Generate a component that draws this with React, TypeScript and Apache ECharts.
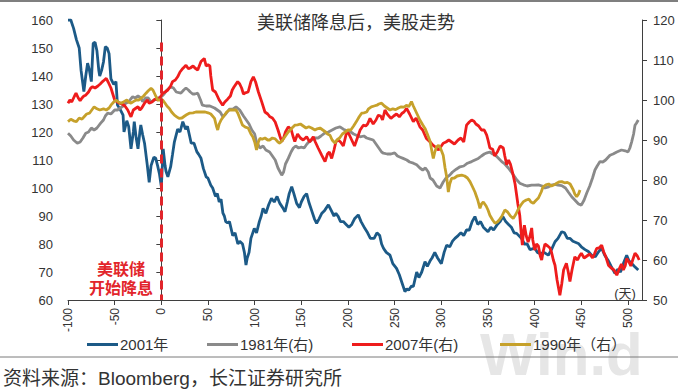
import React, { useEffect, useRef } from "react";
import * as echarts from "echarts";

const TITLE = "美联储降息后，美股走势";
const SOURCE = "资料来源：Bloomberg，长江证券研究所";
const ANNOTATION = ["美联储", "开始降息"];
const DAY_UNIT = "(天)";
const WATERMARK = "Win.d";
const NAMES = ["2001年", "1981年(右)", "2007年(右)", "1990年（右）"];
const COLORS = ["#1C5A87", "#8A8A8A", "#EE1C1C", "#C6A12B"];

const X_MIN = -100;
const X_MAX = 515;
const X_INTERVAL = 50;
const LEFT_MIN = 60;
const LEFT_MAX = 160;
const RIGHT_MIN = 50;
const RIGHT_MAX = 120;
const CUT_DAY = 0;

// 2001 (left axis)
const s2001: [number, number][] = [
  [-100, 160], [-97, 160], [-94, 157], [-91, 153], [-88, 150], [-86, 142], [-83, 134.4], [-81, 140], [-79, 144.6],
  [-77, 142], [-75, 138], [-73, 151.7], [-71, 152], [-69, 149], [-67, 142], [-66, 140], [-64, 142], [-62, 145],
  [-60, 150.5], [-58, 150], [-56, 148], [-54, 139], [-51, 137], [-48.6, 138], [-47, 129.6], [-44, 128], [-41, 126],
  [-40, 120], [-37, 124], [-35, 122], [-32.5, 114], [-30, 120], [-29, 123.7], [-27, 118], [-25, 114], [-23, 120],
  [-22, 122.5], [-20, 119], [-18, 116], [-15, 108], [-13, 102], [-11, 108], [-10, 109], [-8, 111], [-6, 110.6],
  [-4, 108], [-2, 105], [0, 100.5], [2, 114], [4, 108], [5, 106], [7, 104], [10, 107.6], [12, 112], [14, 116.5],
  [17.5, 121], [20, 120], [23, 123.7], [26, 121], [28, 122], [30, 119], [32, 116], [35, 116], [38, 113], [40, 112],
  [42.5, 110.6], [45, 107], [48, 104], [50, 103.5], [53, 101], [55, 100], [58, 97], [60, 98], [62, 95], [64, 96],
  [66, 91], [67.5, 90], [69, 88], [71, 87.5], [73, 88], [76.5, 83], [79, 84], [82, 80], [84, 81], [87, 80], [89, 77],
  [90.7, 72.5], [92, 75], [94, 77], [96, 82], [99.6, 85.6], [102, 84], [105, 88], [107, 90], [109, 92.7], [112, 91],
  [115, 94], [118, 96.3], [121, 95], [124, 97], [127, 94.5], [130, 93], [132.5, 91.5], [135, 95], [137, 98],
  [139.7, 100.5], [142, 98], [145, 94.5], [148, 93], [150, 95], [153, 97], [155.7, 98], [158, 95], [161, 92],
  [164, 89], [166.4, 87.4], [169, 89], [172, 91], [175, 92], [179, 94], [182, 92], [185, 90], [187, 91],
  [189.6, 89.8], [192, 88], [195, 88], [198, 87], [201, 86], [204, 87], [207, 89], [211, 90.4], [214, 88],
  [218, 85.6], [221, 84], [224, 82], [228, 82], [231, 84], [234, 83], [236, 80], [238, 78.5], [241, 77], [245, 76],
  [248, 73], [252, 71.3], [255, 69], [258, 66], [261, 63], [263, 64], [265, 63.5], [268, 65], [270, 64.8],
  [273.6, 70], [276, 68], [279, 70], [282.5, 73.7], [285, 72], [288, 74], [290, 75], [293, 77], [296, 75], [300, 73],
  [303, 77], [305.7, 79.6], [309, 79], [312, 81], [314.6, 82], [318, 83], [321, 84], [324, 83], [327, 85], [330, 85],
  [333, 88], [336, 89.8], [339, 87], [342, 88], [345, 86], [350, 84.4], [353, 86], [356, 85], [360, 87], [363, 88],
  [366, 89.8], [369, 88], [372, 87], [375, 86], [378, 84], [380.7, 83.8], [383, 83], [386, 82], [389, 80], [392, 80],
  [395, 78], [400, 78.5], [403, 77], [406, 76.5], [410, 77], [414.6, 76], [418, 78], [421.8, 80.8], [425, 82],
  [429, 84.4], [432, 84], [435, 82], [438, 82], [441, 81], [446.8, 80.2], [450, 79], [454, 78], [457.5, 77.3],
  [461, 76], [465, 75.5], [468, 77], [471.8, 78.5], [475, 76], [479, 74], [482, 72], [486, 69.5], [489, 71],
  [492, 70], [495, 73], [498.6, 76], [501, 74], [504, 73], [507, 72], [511, 70.7],
];

// 1981 (right axis)
const s1981: [number, number][] = [
  [-100, 91.7], [-97, 91], [-94, 90], [-90, 89.2], [-87, 89.5], [-84, 90.5], [-81, 91.7], [-78, 92], [-75, 93],
  [-72, 92.5], [-69, 93], [-65, 94.2], [-62, 95], [-60, 96], [-57.5, 96.7], [-54, 96.5], [-50, 97.5], [-47, 97.5],
  [-44, 98], [-41, 98.5], [-38, 99.2], [-35, 99.5], [-33, 100.2], [-30.7, 100.8], [-28, 100.5], [-25, 101],
  [-22, 100.5], [-20, 99.6], [-17, 100.5], [-14, 100.5], [-11, 99.5], [-7.5, 100], [-4, 100.5], [0, 100.8],
  [3, 101.5], [6, 102.5], [10, 103.3], [13, 103], [16, 102], [21, 101.7], [24, 102.5], [26.4, 103], [29, 102.5],
  [31, 102], [33.6, 101.5], [36, 101.5], [39, 101.7], [42, 100], [44, 98.7], [48, 98.5], [52, 98.5], [57, 98],
  [60, 97.5], [63, 97], [66, 95.8], [69, 96.5], [73, 97.7], [77, 97.8], [80, 98.3], [84, 97.5], [88, 96], [91, 95],
  [94, 94], [97, 92.5], [100, 91.5], [102, 89.5], [105.7, 88], [109, 88.5], [112, 87.5], [116, 87], [119, 86],
  [122, 85], [125, 83], [129, 81.2], [131, 82], [133, 84], [136, 85.4], [139, 87], [141.4, 88], [144, 88.5],
  [147, 88], [150, 88.2], [153, 88], [156, 89], [158, 89.5], [161, 90], [164, 90.5], [168, 90.5], [171, 91],
  [175, 91.7], [179, 92], [183, 92.5], [187, 93], [191.4, 93.3], [195, 92.7], [199, 92.3], [203, 92], [206, 91.5],
  [209, 91.2], [213, 90.8], [217, 91], [220, 90.5], [224, 90.2], [227, 90], [230, 89], [233, 88], [236, 87],
  [238, 86.7], [242, 86.5], [246, 86.5], [250, 86.8], [253, 86], [256, 85.7], [259, 85.4], [263, 85], [266, 84.5],
  [270, 84.2], [273.6, 83.8], [277, 83], [280, 82.5], [283, 83], [286, 82], [288, 80.5], [291, 80], [295, 78.5],
  [298.6, 78], [302, 79.5], [305, 80.5], [309, 81.2], [312, 82], [316, 82.7], [320, 83.3], [324, 83.5], [328, 84.2],
  [332.5, 84.6], [336, 85], [339.6, 85.4], [343, 86], [346, 86.5], [349, 86.8], [352, 87], [355, 86.5],
  [358, 86.2], [361, 85.5], [364.7, 84.6], [368, 84], [371.8, 83], [375, 82], [378, 81], [381, 80], [384, 79.2],
  [388, 78.8], [392, 78.5], [396.8, 78.7], [400, 78.7], [404, 78.8], [408, 78.5], [411, 78], [415, 78.3],
  [419, 78.8], [422, 78.9], [425, 78.7], [429, 78.6], [433, 78], [436, 77], [439.7, 75.8], [443, 75], [447, 74],
  [450, 73.7], [453, 75], [455.7, 76.7], [459, 78.5], [462, 80.5], [464.6, 82.5], [467, 83.5], [470, 84.6],
  [473, 84.5], [476, 85], [480.7, 86.2], [484, 86.5], [488, 87], [493, 87.5], [497, 87.3], [500, 87], [502, 88],
  [504, 89.6], [506, 91.5], [507.5, 93.7], [509, 94.2], [511, 95],
];

// 2007 (right axis)
const s2007: [number, number][] = [
  [-100, 99.2], [-98, 100], [-96, 99.5], [-93, 101], [-91.4, 101.7], [-89, 100.5], [-87, 99.8], [-85, 100.5],
  [-83, 101], [-81, 101.2], [-78, 102], [-75.6, 103], [-73.6, 103.3], [-71, 103], [-68, 103.5], [-65.5, 104],
  [-63, 104.6], [-61, 105], [-59, 105.4], [-57, 104.5], [-54, 103], [-52, 101.5], [-50, 100], [-47, 99.5],
  [-45, 99.2], [-42, 99], [-39, 98.5], [-36, 97.5], [-34, 96.5], [-32.5, 95.8], [-30, 97.5], [-27, 98], [-25, 98.3],
  [-23, 97.5], [-21, 98], [-18, 99.2], [-15, 100], [-13, 99.2], [-10, 99.5], [-7, 100.2], [-4, 100], [-2, 100.4],
  [1.5, 101.7], [4, 102], [7, 102.5], [10, 103.5], [12, 104.6], [15, 105], [17.5, 105.8], [20, 107], [23, 107.9],
  [26.4, 108.7], [29, 107.8], [31, 108], [34, 108.5], [36, 108], [39, 107.5], [42.5, 109.6], [46, 110.4],
  [48, 108.5], [50, 108.8], [52, 108.5], [53, 106], [55, 102.5], [58, 102], [60, 101], [62, 100], [65.7, 98.7],
  [68, 99.5], [71, 100.2], [74, 101], [76, 102.5], [78, 103.3], [81.8, 104.6], [84, 104], [86, 103], [88, 101.5],
  [90, 101.8], [93, 102], [96, 104.6], [98.6, 105.8], [101, 104.5], [104, 102], [107.5, 99.6], [111, 97],
  [114, 96.5], [116.4, 95.8], [119, 95.5], [122, 94.5], [125, 92.5], [127, 91], [129, 89.6], [131, 90.5], [133, 92],
  [136, 93.3], [139, 92.7], [141, 91], [143, 89.6], [146, 91.5], [149, 90.5], [152, 90], [155.7, 90.8],
  [159, 89.5], [162.8, 90.8], [165, 89.5], [168, 88], [171.8, 86.2], [175.4, 84.6], [178, 86.5], [180, 87],
  [182.5, 85.4], [185, 87.5], [187, 89.5], [189.6, 90], [192, 89.5], [195, 88.5], [198.6, 92], [201, 91.5],
  [204, 90], [207, 88.5], [210, 90.5], [213, 92.5], [216.4, 93.7], [219, 93.5], [221, 94], [223.6, 95.4], [227, 94],
  [230, 95], [232.5, 96.2], [235, 96], [237, 95], [239.6, 97.5], [242, 96.5], [246, 95.4], [249, 96], [252, 96.5],
  [255, 95.8], [258, 96.7], [260, 97], [262.8, 97.9], [266, 96.5], [270, 94.6], [273, 95.5], [277, 93.3],
  [280, 92.5], [284, 90.4], [288, 89.5], [291, 88.7], [295, 88], [297, 87.5], [300, 88.5], [302, 89.2],
  [305, 89.5], [308, 90], [311, 89.5], [314, 89], [318, 90], [321, 90.5], [324, 89.5], [327, 93.7], [330, 94.5],
  [332.5, 95], [335, 94.7], [337, 94], [340, 93.5], [343, 92.5], [346, 92.5], [348.6, 91.2], [350, 90], [352, 88],
  [355, 87.7], [357, 86], [360, 87], [363, 88.5], [366.4, 88], [368, 86], [370, 83.8], [372, 85], [374, 84],
  [377, 81.2], [379, 79], [380.7, 76.2], [382, 74], [384, 71.2], [385.5, 67], [386.8, 63.7], [388, 67], [389, 68.7],
  [391, 66], [393, 64.5], [395, 66], [396.8, 68], [398, 65], [400, 62.5], [402, 64], [404, 63.5], [406, 61],
  [407.5, 60], [409, 62], [411, 64], [414, 63.5], [416.4, 63], [418, 62], [420, 60], [421.8, 58.7], [424, 55],
  [427, 51.2], [429, 54], [431, 57.5], [434, 59.2], [436, 57], [437.8, 54.6], [440, 57.5], [443, 60.8], [446, 60],
  [448, 61], [450, 61.7], [453, 60.5], [456, 61], [459, 61.5], [462, 60.5], [464, 61.5], [466.4, 62.9], [469, 63],
  [471.8, 63.7], [474, 62], [476, 61], [479, 58.7], [482, 58], [485, 57.5], [488, 56.2], [491, 58], [493, 59],
  [495, 57.5], [497, 58.5], [498.6, 60.4], [501, 59.5], [503, 58.5], [505, 60], [507.5, 61.7], [510, 61], [512, 60],
];

// 1990 (right axis)
const s1990: [number, number][] = [
  [-100, 94.6], [-97, 95.2], [-94, 94.8], [-91, 94.6], [-88, 95.5], [-85, 95.2], [-82, 96], [-80, 96.5], [-77, 96.7],
  [-74.5, 97.5], [-72, 98.3], [-69, 97.8], [-66, 97.5], [-62, 97.8], [-59, 97.5], [-56, 98], [-54, 98.7],
  [-51, 99.5], [-48.6, 100], [-46, 99.5], [-43, 99.2], [-40, 99.6], [-37, 100], [-35, 99.5], [-32.5, 99.2],
  [-30, 99.6], [-27, 100], [-24, 100], [-22, 100.4], [-19, 101], [-16.4, 101.7], [-14, 102.3], [-11, 102.9],
  [-9, 102.5], [-7, 101.5], [-4, 100], [-1, 100], [1.5, 100], [4, 99.2], [6, 98.5], [8.6, 97.9], [11, 97],
  [14, 96.2], [16.5, 95.8], [19, 95.4], [22, 95.5], [25, 96], [27, 96.3], [30, 96.7], [34, 96.8], [37, 97], [40, 97],
  [44, 97], [47, 97], [50, 96.8], [53, 96.5], [57, 95.4], [59, 93.5], [60.4, 92.5], [62, 94], [64, 95], [67, 96],
  [70, 97], [72.8, 97.5], [76, 97.5], [80, 97.5], [82, 96.7], [84, 95.5], [87, 93.7], [90, 93.2], [93, 93],
  [96, 91.5], [98, 90.8], [100, 89.5], [102, 87.5], [104, 89.5], [105.7, 90.4], [108, 90.2], [111, 90.5], [114, 90],
  [116, 90], [119, 90.5], [122, 90.3], [125, 89.5], [127, 89.2], [130, 90], [133, 91], [136, 92], [138, 92.5],
  [140, 93], [143, 93.7], [146, 93.8], [149, 94], [152, 93.5], [155, 93], [158, 93.3], [161, 93], [164.6, 92.5],
  [167, 92.8], [170, 93], [173, 92.5], [176, 92], [178, 91.5], [180.7, 91.2], [183, 90], [186, 89.2], [188, 90],
  [191, 90.5], [194, 91.5], [197, 92], [200, 92.5], [203, 92.5], [206, 93.5], [209, 94.6], [212, 95.8],
  [214.6, 96.7], [217, 96.8], [220, 97], [222, 97.8], [225, 98.3], [228, 98.5], [231, 98.7], [233, 99],
  [236, 99.2], [239, 98.5], [242, 98], [245, 97.5], [248, 97.8], [251, 97.6], [254, 98], [257, 98.3], [260, 98.2],
  [263, 98.7], [265, 98.3], [268, 99.6], [270, 98.5], [273, 97], [277, 95], [280, 93.8], [282.5, 92.9],
  [285, 91.5], [288, 89.6], [290, 87], [291.4, 85.4], [293, 87], [295, 88.3], [297, 88.7], [299, 88], [302, 86.2],
  [304, 83], [305.7, 80.8], [307.5, 77], [309, 79], [311, 80.4], [314, 80.5], [317, 81], [321.8, 81.2], [325, 81],
  [328, 80.5], [330.7, 79.6], [333, 78.5], [336, 77], [339, 75], [341.4, 72.9], [343, 74], [345, 74.5],
  [348, 73.5], [350, 72.5], [352, 71.2], [355, 70], [357.5, 69.2], [360, 69.5], [362, 70], [365, 71], [368, 72.5],
  [371, 72], [374, 71], [377, 70.4], [380, 71.5], [382, 72.5], [384, 73.3], [386, 74], [388, 74.6], [391, 75],
  [394, 75.2], [396, 74.5], [398.6, 74.2], [401, 74.8], [404, 75.5], [407, 77], [409, 78.3], [412, 78.8], [415, 79],
  [418, 78.5], [421, 78.8], [423.6, 79.2], [426, 79.5], [429, 79.6], [432, 79.3], [435, 79.4], [438, 79],
  [441.4, 77.5], [443, 76.5], [445, 75.8], [447, 76.5], [448.6, 77.5],
];

const SERIES_DATA = [s2001, s1981, s2007, s1990];
const SERIES_AXIS = [0, 1, 1, 1];
const LEGEND_LEFT = [82, 202, 347, 495];

const FONT = "'Liberation Sans', Arial, 'Noto Sans CJK SC', sans-serif";
const TEXT_COLOR = "#333333";
const AXIS_COLOR = "#3f3f3f";

export default function App() {
  const ref = useRef<HTMLDivElement>(null);

  useEffect(() => {
    if (!ref.current) return;
    const chart = echarts.init(ref.current, undefined, { renderer: "svg" });

    const axisLine = { show: true, lineStyle: { color: AXIS_COLOR, width: 1 } };
    const axisTick = { show: true, length: 5, lineStyle: { color: AXIS_COLOR } };

    const option: any = {
      animation: false,
      backgroundColor: "#ffffff",
      textStyle: { fontFamily: FONT },
      title: {
        text: TITLE,
        left: 252,
        top: 9,
        textStyle: { fontSize: 18, fontWeight: "normal", color: TEXT_COLOR, fontFamily: FONT },
      },
      legend: NAMES.map((n, i) => ({
        data: [n],
        left: LEGEND_LEFT[i],
        top: 332,
        icon: "rect",
        itemWidth: 31,
        itemHeight: 3,
        itemGap: 4,
        textStyle: { fontSize: 15, color: TEXT_COLOR, fontFamily: FONT, padding: [0, 0, 0, -3] },
        selectedMode: false,
        z: 5,
      })),
      grid: { left: 68, right: 45, top: 20, bottom: 92, containLabel: false },
      xAxis: {
        type: "value",
        min: X_MIN,
        max: X_MAX,
        interval: X_INTERVAL,
        axisLine,
        axisTick,
        splitLine: { show: false },
        axisLabel: {
          rotate: 90,
          margin: 8,
          fontSize: 12,
          color: TEXT_COLOR,
          fontFamily: FONT,
          showMaxLabel: false,
        },
      },
      yAxis: [
        {
          type: "value",
          min: LEFT_MIN,
          max: LEFT_MAX,
          interval: 10,
          axisLine,
          axisTick,
          splitLine: { show: false },
          axisLabel: { fontSize: 13, color: TEXT_COLOR, margin: 15, fontFamily: FONT },
        },
        {
          type: "value",
          position: "right",
          min: RIGHT_MIN,
          max: RIGHT_MAX,
          interval: 10,
          axisLine,
          axisTick,
          splitLine: { show: false },
          axisLabel: { fontSize: 13, color: TEXT_COLOR, margin: 11, fontFamily: FONT },
        },
      ],
      series: SERIES_DATA.map((d, i) => ({
        name: NAMES[i],
        type: "line",
        yAxisIndex: SERIES_AXIS[i],
        data: d,
        showSymbol: false,
        symbol: "none",
        color: COLORS[i],
        lineStyle: { width: 2.8, color: COLORS[i] },
        z: 2 + i,
        markLine:
          i === 0
            ? {
                silent: true,
                symbol: ["none", "none"],
                label: { show: false },
                lineStyle: { type: [9, 5], width: 3, color: "#E2252B" },
                data: [[{ coord: [CUT_DAY, 152] }, { coord: [CUT_DAY, LEFT_MIN] }]],
                z: 10,
              }
            : undefined,
      })),
      graphic: [
        {
          type: "text",
          x: 480,
          y: 354,
          z: 0,
          style: {
            text: WATERMARK,
            fontSize: 60,
            fontWeight: "bold",
            fill: "#e6e6e6",
            verticalAlign: "middle",
            fontFamily: FONT,
          },
        },
        {
          type: "line",
          shape: { x1: 0, y1: 1, x2: 678, y2: 1 },
          style: { stroke: "#555555", lineWidth: 1.5 },
        },
        {
          type: "line",
          z: 2,
          shape: { x1: 0, y1: 357, x2: 678, y2: 357 },
          style: { stroke: "#7a7a7a", lineWidth: 1 },
        },
        {
          type: "text",
          x: 121,
          y: 269,
          z: 20,
          style: {
            text: ANNOTATION[0],
            fontSize: 16,
            fontWeight: "bold",
            fill: "#E2252B",
            align: "center",
            verticalAlign: "middle",
            fontFamily: FONT,
          },
        },
        {
          type: "text",
          x: 121,
          y: 288,
          z: 20,
          style: {
            text: ANNOTATION[1],
            fontSize: 16,
            fontWeight: "bold",
            fill: "#E2252B",
            align: "center",
            verticalAlign: "middle",
            fontFamily: FONT,
          },
        },
        {
          type: "text",
          x: 625,
          y: 293,
          z: 20,
          style: {
            text: DAY_UNIT,
            fontSize: 13,
            fill: TEXT_COLOR,
            align: "center",
            verticalAlign: "middle",
            fontFamily: FONT,
          },
        },
        {
          type: "text",
          x: 3,
          y: 378,
          z: 5,
          style: {
            text: SOURCE,
            fontSize: 19,
            fill: TEXT_COLOR,
            verticalAlign: "middle",
            fontFamily: FONT,
          },
        },
      ],
    };

    chart.setOption(option);
    return () => chart.dispose();
  }, []);

  return (
    <div
      ref={ref}
      style={{ position: "fixed", left: 0, top: 0, width: 687, height: 392, background: "#fff" }}
    />
  );
}
